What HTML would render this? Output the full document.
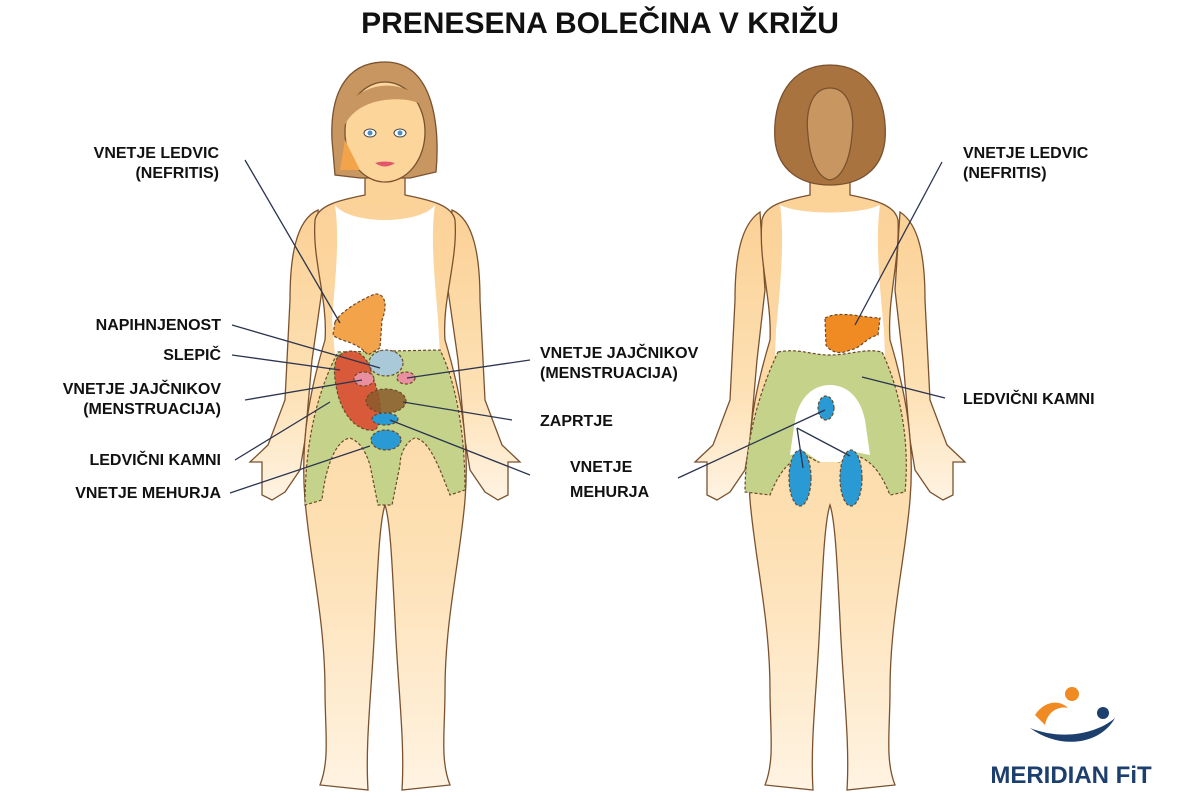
<!DOCTYPE html>
<html><head><meta charset="utf-8"><style>
body{margin:0;background:#fff;}
svg{display:block;font-family:"Liberation Sans",sans-serif;}
.l{font-weight:bold;font-size:16px;fill:#111;}
.c{stroke:#2c3550;stroke-width:1.3;fill:none;}
.o{stroke:#7a5230;stroke-width:1.3;}
.d{stroke:#6b4a2a;stroke-width:1.2;stroke-dasharray:3 2;}
</style></head><body>
<svg width="1200" height="800" viewBox="0 0 1200 800">
<defs>
<linearGradient id="sk" x1="0" y1="0" x2="0" y2="1">
<stop offset="0" stop-color="#fbd196"/><stop offset="0.6" stop-color="#fde0b3"/><stop offset="1" stop-color="#fff3e2"/></linearGradient>
</defs>
<text x="600" y="33" text-anchor="middle" font-size="30" font-weight="bold" fill="#111">PRENESENA BOLEČINA V KRIŽU</text>

<!-- FRONT BODY -->
<g>
<path class="o" fill="url(#sk)" d="M318,210 C295,220 290,260 290,300 L285,400 L268,445 L250,462 L262,462 L262,495 L272,500 L285,492 L300,470 L305,440 L312,360 L322,290 Z"/>
<path class="o" fill="url(#sk)" d="M452,210 C475,220 480,260 480,300 L485,400 L502,445 L520,462 L508,462 L508,495 L498,500 L485,492 L470,470 L465,440 L458,360 L448,290 Z"/>
<path class="o" fill="url(#sk)" d="M365,170 L365,195 C340,200 318,205 315,220 C312,260 328,300 325,340 C310,390 300,440 305,500 C310,560 325,620 325,690 C325,730 330,760 320,785 L368,790 C365,740 372,690 375,620 C378,560 380,520 385,505 C390,520 392,560 395,620 C398,690 405,740 402,790 L450,785 C440,760 445,730 445,690 C445,620 460,560 465,500 C470,440 460,390 445,340 C442,300 458,260 455,220 C452,205 430,200 405,195 L405,170 Z"/>
<path fill="#fff" d="M335,205 C340,240 335,280 332,320 L335,355 L440,355 L438,320 C435,280 430,240 435,205 C420,225 350,225 335,205 Z"/>
<path fill="#c89660" class="o" d="M385,62 C345,62 330,95 332,140 L335,175 L360,178 L410,178 L436,172 C440,130 435,62 385,62 Z"/>
<ellipse cx="385" cy="132" rx="40" ry="50" fill="#fcd59b" class="o"/>
<path fill="#c89660" d="M345,110 C360,80 410,75 428,110 C420,95 360,92 345,125 Z"/>
<path fill="#f3a34a" d="M345,140 L340,170 L360,170 Z"/>
<ellipse cx="370" cy="133" rx="6" ry="4" fill="#fff" stroke="#444"/><circle cx="370" cy="133" r="2.5" fill="#4a8ec4"/>
<ellipse cx="400" cy="133" rx="6" ry="4" fill="#fff" stroke="#444"/><circle cx="400" cy="133" r="2.5" fill="#4a8ec4"/>
<path d="M375,163 Q385,170 395,163 Q385,160 375,163Z" fill="#e2566b"/>
<path class="d" fill="#c5d38a" d="M338,352 L440,350 C455,380 465,430 465,490 L450,495 C440,470 430,440 415,438 C405,442 400,455 400,465 L392,505 L378,505 L370,465 C365,450 360,442 350,438 C335,440 325,470 322,500 L305,505 C305,440 318,390 338,352 Z"/>
<path class="d" fill="#f3a34a" d="M335,322 C340,312 360,300 375,294 C385,293 388,305 382,320 L380,348 L368,355 C355,340 340,342 333,335 Z"/>
<path class="d" fill="#d95a3a" d="M340,355 C355,345 368,355 372,375 C380,395 385,420 375,430 C360,432 345,420 338,395 C333,375 333,360 340,355 Z"/>
<ellipse class="d" cx="386" cy="363" rx="17" ry="13" fill="#a9c8d8"/>
<ellipse class="d" cx="364" cy="379" rx="10" ry="7" fill="#ea8fa0"/>
<ellipse class="d" cx="406" cy="378" rx="9" ry="6" fill="#ea8fa0"/>
<ellipse class="d" cx="386" cy="401" rx="20" ry="12" fill="#8a5a2a" fill-opacity="0.85"/>
<ellipse class="d" cx="385" cy="419" rx="13" ry="6" fill="#2a9ad4"/>
<ellipse class="d" cx="386" cy="440" rx="15" ry="10" fill="#2a9ad4"/>
</g>

<!-- BACK BODY -->
<g>
<path class="o" fill="url(#sk)" d="M760,212 C740,225 735,260 735,300 L730,400 L713,445 L695,462 L707,462 L707,495 L717,500 L730,492 L745,470 L750,440 L757,360 L765,290 Z"/>
<path class="o" fill="url(#sk)" d="M900,212 C920,225 925,260 925,300 L930,400 L947,445 L965,462 L953,462 L953,495 L943,500 L930,492 L915,470 L910,440 L903,360 L895,290 Z"/>
<path class="o" fill="url(#sk)" d="M810,175 L810,195 C785,200 765,205 762,220 C758,260 772,300 770,340 C755,390 745,440 750,500 C755,560 770,620 770,690 C770,730 775,760 765,785 L813,790 C810,740 817,690 820,620 C823,560 825,520 830,505 C835,520 837,560 840,620 C843,690 850,740 847,790 L895,785 C885,760 890,730 890,690 C890,620 905,560 910,500 C915,440 905,390 890,340 C887,300 900,260 898,220 C895,205 875,200 850,195 L850,175 Z"/>
<path fill="#fff" d="M780,205 C785,240 780,290 776,330 L775,355 L885,355 L884,330 C880,290 875,240 880,205 C860,215 800,215 780,205 Z"/>
<path fill="#a8733e" class="o" d="M830,65 C790,65 772,100 775,140 C778,170 800,185 830,185 C860,185 882,170 885,140 C888,100 870,65 830,65 Z"/>
<path fill="#c89660" class="o" d="M830,88 C812,88 805,110 808,135 C810,160 818,178 830,180 C842,178 850,160 852,135 C855,110 848,88 830,88 Z"/>
<path class="d" fill="#c5d38a" d="M778,352 C800,348 810,355 830,355 C850,355 865,348 882,352 C900,390 910,440 905,492 L890,495 C880,470 870,460 855,455 L840,462 L830,460 L818,462 L805,455 C790,460 780,470 770,495 L745,492 C745,440 760,390 778,352 Z"/>
<path fill="#fff" d="M795,420 C800,395 815,385 830,385 C845,385 860,395 865,420 L870,455 L855,452 L840,462 L820,462 L805,452 L790,455 Z"/>
<path class="d" fill="#f08a22" d="M825,318 C840,310 865,318 880,318 L878,335 C865,338 862,348 850,350 C840,355 830,352 826,345 Z"/>
<ellipse class="d" cx="826" cy="408" rx="8" ry="12" fill="#2a9ad4"/>
<ellipse class="d" cx="800" cy="478" rx="11" ry="28" fill="#2a9ad4"/>
<ellipse class="d" cx="851" cy="478" rx="11" ry="28" fill="#2a9ad4"/>
</g>

<path class="c" d="M245,160 L340,323"/>
<path class="c" d="M232,325 L380,368"/>
<path class="c" d="M232,355 L340,370"/>
<path class="c" d="M245,400 L362,380"/>
<path class="c" d="M235,460 L330,402"/>
<path class="c" d="M230,493 L370,446"/>
<path class="c" d="M530,360 L407,378"/>
<path class="c" d="M512,420 L403,402"/>
<path class="c" d="M530,475 L390,420"/>
<path class="c" d="M942,162 L855,325"/>
<path class="c" d="M945,398 L862,377"/>
<path class="c" d="M678,478 L825,410"/>
<path class="c" d="M797,428 L803,468"/>
<path class="c" d="M797,428 L850,456"/>

<text class="l" x="219" y="158" text-anchor="end">VNETJE LEDVIC</text>
<text class="l" x="219" y="178" text-anchor="end">(NEFRITIS)</text>
<text class="l" x="221" y="330" text-anchor="end">NAPIHNJENOST</text>
<text class="l" x="221" y="360" text-anchor="end">SLEPIČ</text>
<text class="l" x="221" y="394" text-anchor="end">VNETJE JAJČNIKOV</text>
<text class="l" x="221" y="414" text-anchor="end">(MENSTRUACIJA)</text>
<text class="l" x="221" y="465" text-anchor="end">LEDVIČNI KAMNI</text>
<text class="l" x="221" y="498" text-anchor="end">VNETJE MEHURJA</text>
<text class="l" x="540" y="358">VNETJE JAJČNIKOV</text>
<text class="l" x="540" y="378">(MENSTRUACIJA)</text>
<text class="l" x="540" y="426">ZAPRTJE</text>
<text class="l" x="570" y="472">VNETJE</text>
<text class="l" x="570" y="497">MEHURJA</text>
<text class="l" x="963" y="158">VNETJE LEDVIC</text>
<text class="l" x="963" y="178">(NEFRITIS)</text>
<text class="l" x="963" y="404">LEDVIČNI KAMNI</text>

<circle cx="1072" cy="694" r="7" fill="#f08a22"/>
<path d="M1035,715 C1045,700 1060,700 1068,708 C1060,706 1048,710 1045,725 Z" fill="#f08a22"/>
<circle cx="1103" cy="713" r="6" fill="#1d3f6e"/>
<path d="M1030,728 C1060,740 1095,735 1115,718 C1100,745 1060,750 1030,728 Z" fill="#1d3f6e"/>
<text x="1071" y="783" text-anchor="middle" font-size="24" font-weight="bold" fill="#1d3f6e">MERIDIAN FiT</text>
</svg>
</body></html>
